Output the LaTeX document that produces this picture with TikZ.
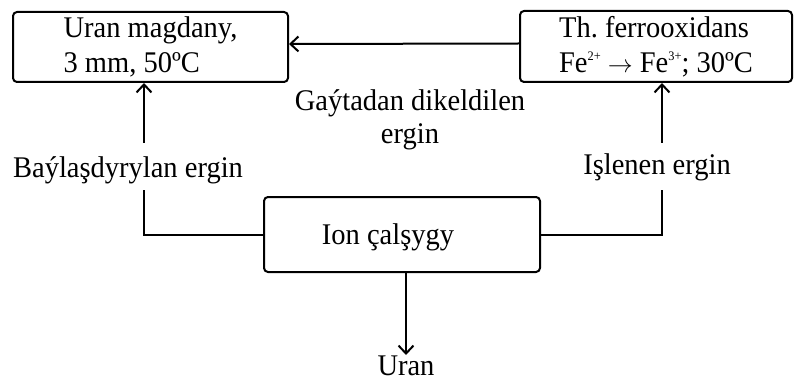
\documentclass[tikz,border=0pt]{standalone}
\usepackage{fontspec}
\setmainfont{Liberation Serif}[FakeStretch=0.95]
\usetikzlibrary{arrows.meta}
\newcommand{\mysup}[1]{\raisebox{0.85ex}{\fontsize{13}{13}\selectfont #1}}
\begin{document}
\begin{tikzpicture}[x=1pt,y=-1pt,
  box/.style={draw, line width=2pt, rounded corners=4pt, inner sep=0pt, align=left, font=\fontsize{30}{35}\selectfont},
  txt/.style={inner sep=0pt, align=center},
  conn/.style={line width=2pt},
  arr/.style={line width=2pt, -{Straight Barb[length=8pt,width=15pt,line width=2pt]}},
  every node/.style={font=\fontsize{30}{33}\selectfont}]
\useasboundingbox (0,0) rectangle (794,382);
\node[box, minimum width=275pt, minimum height=70pt] (lbox) at (150.5,47) {Uran magdany,\\3 mm, 50ºC};
\node[box, minimum width=272pt, minimum height=71pt] (rbox) at (656,46.5) {Th.\ ferrooxidans\\Fe\mysup{2+} $\rightarrow$ Fe\mysup{3+}; 30ºC};
\node[box, minimum width=276pt, minimum height=75pt] (ion) at (402,234.5) {};
\node[txt, anchor=base] (iontxt) at (388,244) {Ion çalşygy};
\node[txt] (mid) at (410,120) {Gaýtadan dikeldilen\\ergin};
\node[txt, anchor=base] (lbl) at (128,178) {Baýlaşdyrylan ergin};
\node[txt, anchor=base] (rbl) at (657,175) {Işlenen ergin};
\node[txt, anchor=base] (uran) at (406,375) {Uran};
\coordinate (c1) at (144,190);
\coordinate (c2) at (144,143);
\coordinate (c3) at (662,190);
\coordinate (c4) at (662,143);
\coordinate (c5) at (406,355);
\draw[arr] ([yshift=3pt]rbox.west) -- ([yshift=3pt]lbox.east);
\draw[conn] (ion.west) -| (c1);
\draw[arr] (c2) -- (c2 |- lbox.south);
\draw[conn] (ion.east) -| (c3);
\draw[arr] (c4) -- (c4 |- rbox.south);
\draw[arr] (c5 |- ion.south) -- (c5);
\end{tikzpicture}
\end{document}
